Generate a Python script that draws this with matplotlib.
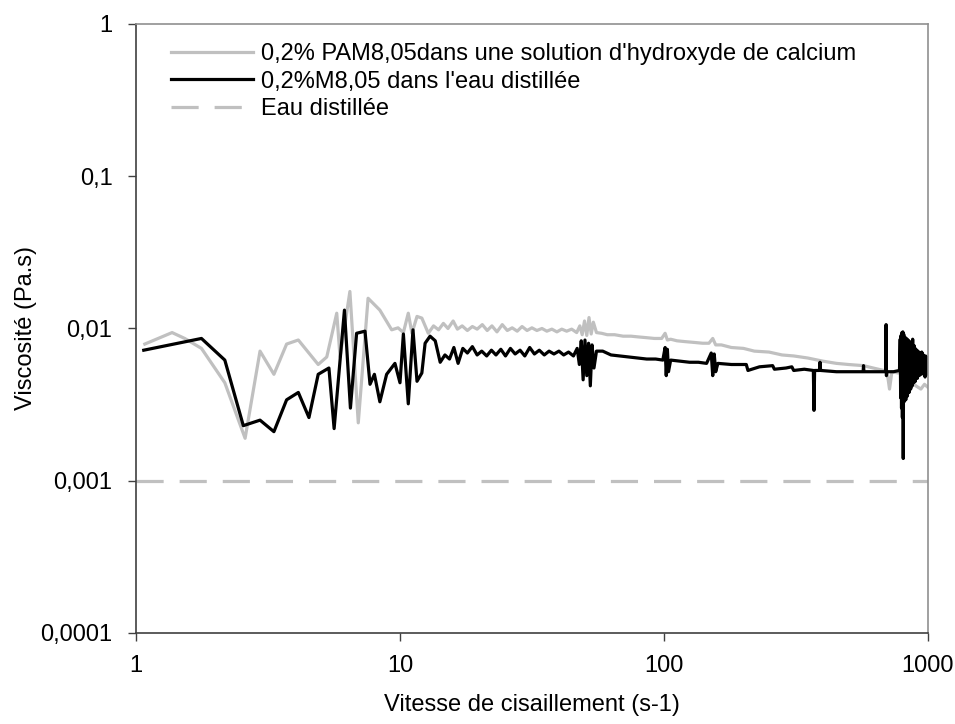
import matplotlib
matplotlib.use("Agg")
import matplotlib.pyplot as plt

# Courbe grise : 0,2% PAM8,05 dans une solution d'hydroxyde de calcium
x_pam_ca = [
    1.08, 1.37, 1.53, 1.77, 2.17, 2.59, 2.95, 3.33, 3.72, 4.12, 4.90, 5.28,
    5.76, 5.93, 6.46, 6.95, 7.57, 8.39, 9.30, 9.83, 10.3, 10.75, 11.1, 11.6,
    12.1, 12.8, 13.4, 14.0, 14.6, 15.2, 15.9, 16.5, 17.2, 18.0, 18.8, 19.6,
    20.5, 21.4, 22.3, 23.3, 24.4, 25.5, 26.6, 27.8, 29.0, 30.3, 31.6, 33.0,
    34.5, 36.0, 37.6, 39.3, 41.0, 42.8, 44.7, 46.7, 48.0, 49.0, 50.0, 51.0,
    52.0, 53.0, 54.0, 55.5, 58.0, 61.0, 65.0, 70.0, 75.0, 80.0, 86.0, 92.0,
    98.0, 101.0, 103.0, 106.0, 112.0, 120.0, 130.0, 140.0, 148.0, 153.0,
    157.0, 165.0, 180.0, 200.0, 220.0, 250.0, 280.0, 310.0, 350.0, 400.0,
    450.0, 500.0, 570.0, 620.0, 680.0, 700.0, 715.0, 730.0, 770.0, 800.0,
    830.0, 860.0, 900.0, 940.0, 970.0, 1000.0,
]
y_pam_ca = [
    0.0079, 0.0094, 0.0086, 0.0074, 0.0044, 0.0019, 0.0071, 0.0050, 0.0079,
    0.0084, 0.0058, 0.0065, 0.0126, 0.0065, 0.0175, 0.0024, 0.0158, 0.0132,
    0.0098, 0.0101, 0.0094, 0.0126, 0.0093, 0.0120, 0.0117, 0.0093, 0.0104,
    0.0098, 0.0108, 0.0100, 0.0112, 0.0099, 0.0104, 0.0097, 0.0103, 0.0099,
    0.0106, 0.0097, 0.0104, 0.0095, 0.0106, 0.0097, 0.0101, 0.0096, 0.0103,
    0.0097, 0.0101, 0.0097, 0.0100, 0.0096, 0.0099, 0.0095, 0.0099, 0.0096,
    0.0099, 0.0094, 0.0104, 0.0091, 0.0112, 0.0090, 0.0118, 0.0092, 0.0110,
    0.0094, 0.0093, 0.0091, 0.0091, 0.0089, 0.0089, 0.0088, 0.0087, 0.0086,
    0.0086, 0.0093, 0.0084, 0.0085, 0.0083, 0.0082, 0.0081, 0.0080, 0.0080,
    0.0086, 0.0078, 0.0078, 0.0075, 0.0074, 0.0071, 0.0070, 0.0067, 0.0066,
    0.0064, 0.0061, 0.0059, 0.0058, 0.0057, 0.0055, 0.0053, 0.0052, 0.0040,
    0.0052, 0.0051, 0.0052, 0.0047, 0.0045, 0.0042, 0.0040, 0.0043, 0.0041,
]

# Courbe noire : 0,2% M8,05 dans l'eau distillée
x_pam_eau = [
    1.07, 1.77, 2.17, 2.55, 2.95, 3.33, 3.72, 4.12, 4.52, 4.90, 5.38, 5.63,
    6.16, 6.49, 6.85, 7.37, 7.70, 8.00, 8.39, 8.90, 9.57, 10.0, 10.3, 10.75,
    11.2, 11.6, 12.1, 12.45, 13.0, 13.6, 14.2, 14.8, 15.4, 16.0, 16.6, 17.3,
    18.0, 18.8, 19.6, 20.4, 21.3, 22.2, 23.1, 24.1, 25.1, 26.2, 27.3, 28.5,
    29.7, 31.0, 32.3, 33.7, 35.2, 36.7, 38.3, 40.0, 41.7, 43.5, 45.4, 46.9,
    47.8, 48.6, 49.4, 50.2, 51.0, 51.8, 52.6, 53.4, 54.3, 55.5, 58.6, 63.0,
    68.0, 73.0, 79.0, 86.0, 93.0, 99.0, 101.0, 102.0, 103.0, 104.0, 106.0,
    115.0, 125.0, 135.0, 145.0, 151.0, 153.0, 155.0, 157.0, 160.0, 180.0,
    205.0, 208.0, 230.0, 258.0, 262.0, 290.0, 305.0, 310.0, 340.0, 368.0,
    370.0, 372.0, 388.0, 390.0, 392.0, 450.0, 500.0, 568.0, 570.0, 572.0,
    640.0, 692.0, 694.0, 696.0, 698.0, 740.0, 780.0,
    785.0, 788.0, 791.0, 794.0, 797.0, 800.0, 803.0, 806.0, 809.0, 812.0,
    815.0, 818.0, 821.0, 824.0, 827.0, 830.0, 833.0, 836.0, 839.0, 842.0,
    845.0, 848.0, 851.0, 854.0, 857.0, 860.0, 863.0, 866.0, 869.0, 872.0,
    875.0, 878.0, 881.0, 884.0, 887.0, 890.0, 893.0, 896.0, 899.0, 903.0,
    907.0, 911.0, 915.0, 919.0, 923.0, 927.0, 931.0, 935.0, 939.0, 943.0,
    947.0, 951.0, 955.0, 959.0, 963.0, 967.0, 971.0, 975.0, 979.0, 983.0,
    987.0, 991.0, 995.0, 1000.0,
]
y_pam_eau = [
    0.0072, 0.0086, 0.0062, 0.0023, 0.0025, 0.0021, 0.0034, 0.0038, 0.0026,
    0.0050, 0.0055, 0.0022, 0.0132, 0.0030, 0.0093, 0.0096, 0.0043, 0.0050,
    0.0033, 0.0050, 0.0059, 0.0044, 0.0092, 0.0032, 0.0098, 0.0045, 0.0051,
    0.0080, 0.0089, 0.0083, 0.0060, 0.0067, 0.0063, 0.0075, 0.0059, 0.0074,
    0.0069, 0.0076, 0.0067, 0.0071, 0.0066, 0.0072, 0.0067, 0.0073, 0.0066,
    0.0074, 0.0068, 0.0072, 0.0066, 0.0075, 0.0068, 0.0072, 0.0067, 0.0071,
    0.0068, 0.0071, 0.0067, 0.0070, 0.0066, 0.0074, 0.0058, 0.0083, 0.0046,
    0.0084, 0.0049, 0.0080, 0.0042, 0.0078, 0.0055, 0.0071, 0.0071, 0.0067,
    0.0066, 0.0065, 0.0064, 0.0063, 0.0063, 0.0062, 0.0075, 0.0049, 0.0073,
    0.0052, 0.0062, 0.0061, 0.0060, 0.0060, 0.0059, 0.0069, 0.0049, 0.0068,
    0.0052, 0.0059, 0.0058, 0.0058, 0.0053, 0.0056, 0.0057, 0.0054, 0.0055,
    0.0056, 0.0053, 0.0054, 0.0053, 0.0029, 0.0053, 0.0053, 0.0060, 0.0053,
    0.0052, 0.0052, 0.0052, 0.0057, 0.0052, 0.0052, 0.0052, 0.0106, 0.0049,
    0.0052, 0.0052, 0.0053,
    0.0085, 0.0035, 0.0090, 0.0030, 0.0094, 0.0026, 0.0095, 0.0014, 0.0092,
    0.0033, 0.0088, 0.0038, 0.0087, 0.0034, 0.0086, 0.0040, 0.0085, 0.0036,
    0.0084, 0.0042, 0.0083, 0.0038, 0.0082, 0.0043, 0.0080, 0.0040, 0.0081,
    0.0045, 0.0078, 0.0042, 0.0085, 0.0046, 0.0076, 0.0044, 0.0077, 0.0048,
    0.0074, 0.0045, 0.0073, 0.0050, 0.0072, 0.0047, 0.0071, 0.0050, 0.0070,
    0.0049, 0.0069, 0.0052, 0.0068, 0.0050, 0.0070, 0.0052, 0.0068, 0.0053,
    0.0066, 0.0050, 0.0064, 0.0048, 0.0066, 0.0052, 0.0065, 0.0050, 0.0064,
    0.0058,
]

# Eau distillée : viscosité constante
x_eau = [1.0, 1000.0]
y_eau = [0.001, 0.001]

x_ticks = [1, 10, 100, 1000]
x_ticklabels = ["1", "10", "100", "1000"]
y_ticks = [0.0001, 0.001, 0.01, 0.1, 1]
y_ticklabels = ["0,0001", "0,001", "0,01", "0,1", "1"]

plt.rcParams["font.family"] = ["Liberation Sans", "DejaVu Sans"]
FS = 17

fig = plt.figure(figsize=(9.55, 7.24), dpi=100)
ax = fig.add_axes([0.1424, 0.1257, 0.8293, 0.8412])

ax.plot(x_pam_ca, y_pam_ca, color="#c0c0c0", linewidth=2.3,
        label="0,2% PAM8,05dans une solution d'hydroxyde de calcium")
ax.plot(x_pam_eau, y_pam_eau, color="black", linewidth=2.3,
        label="0,2%M8,05 dans l'eau distillée")
ax.plot(x_eau, y_eau, color="#c0c0c0", linewidth=2.3, dashes=(8.5, 5),
        label="Eau distillée")

ax.set_xscale("log")
ax.set_yscale("log")
ax.set_xlim(1, 1000)
ax.set_ylim(0.0001, 1)
ax.set_xticks(x_ticks, x_ticklabels)
ax.set_yticks(y_ticks, y_ticklabels)
ax.minorticks_off()
ax.tick_params(axis="both", labelsize=FS, direction="out", length=6,
               width=1, color="#404040")
ax.tick_params(axis="x", pad=10)
ax.tick_params(axis="y", pad=11)

for side in ("left", "bottom"):
    ax.spines[side].set_color("#404040")
    ax.spines[side].set_linewidth(1.2)
for side in ("top", "right"):
    ax.spines[side].set_color("#909090")
    ax.spines[side].set_linewidth(1.2)

ax.set_xlabel("Vitesse de cisaillement (s-1)", fontsize=FS, labelpad=12)
ax.set_ylabel("Viscosité (Pa.s)", fontsize=FS, labelpad=2)

ax.legend(loc="upper left", frameon=False, fontsize=FS, handlelength=3.5,
          handletextpad=0.3, labelspacing=0.24, borderpad=0,
          borderaxespad=0, bbox_to_anchor=(0.044, 0.969))

fig.savefig("out.png", dpi=100)
